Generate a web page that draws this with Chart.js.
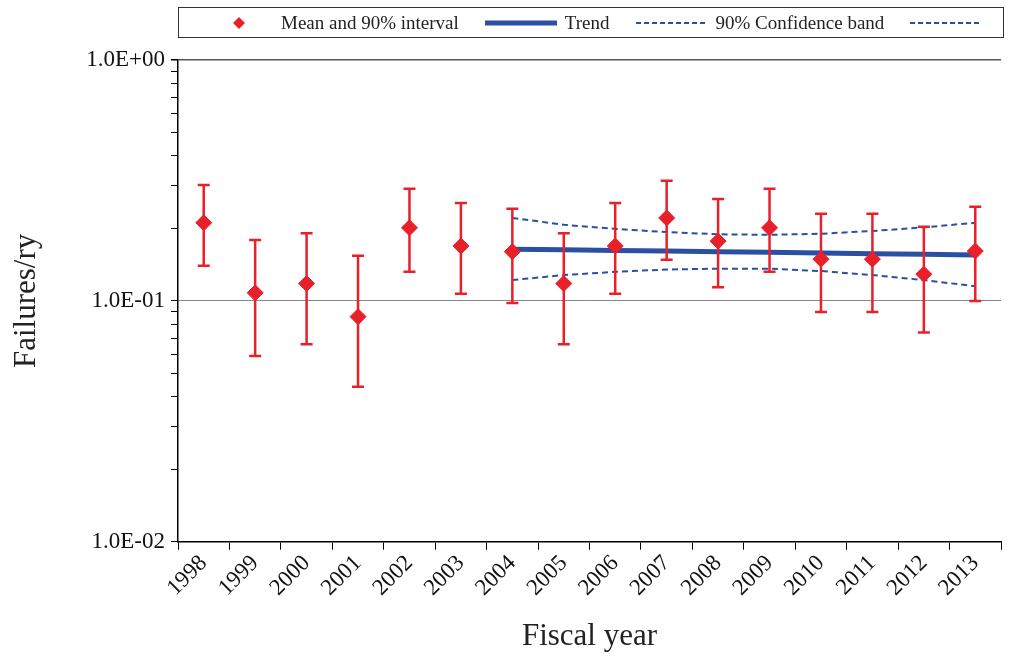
<!DOCTYPE html>
<html><head><meta charset="utf-8">
<script src="https://cdn.jsdelivr.net/npm/chart.js@4"></script>
<style>
body{margin:0;background:#fff;font-family:"Liberation Serif",serif}
#wrap{position:relative;width:1010px;height:663px}
#legend{position:absolute;left:178px;top:7px;width:826px;height:31px;border:1px solid #333;box-sizing:border-box;display:flex;align-items:center;font-size:19px;color:#222;white-space:nowrap}
#legend span{display:inline-flex;align-items:center;margin-right:26px;white-space:nowrap}
#legend svg{margin-right:8px;flex:none}
</style></head><body>
<div id="wrap"><canvas id="c" width="1010" height="663"></canvas>
<div id="legend">
<span style="margin-left:52px"><svg width="16" height="16" style="margin-right:34px"><polygon points="8,2 14,8 8,14 2,8" fill="#e8202a"/></svg>Mean and 90% interval</span>
<span><svg width="72" height="10"><line x1="0" y1="5" x2="72" y2="5" stroke="#2a4fa3" stroke-width="5"/></svg>Trend</span>
<span><svg width="72" height="10"><line x1="0" y1="5" x2="72" y2="5" stroke="#2a4fa3" stroke-width="2" stroke-dasharray="5,3"/></svg>90% Confidence band</span>
<span><svg width="72" height="10"><line x1="0" y1="5" x2="72" y2="5" stroke="#2a4fa3" stroke-width="2" stroke-dasharray="5,3"/></svg></span>
</div></div>
<script>
const years=["1998","1999","2000","2001","2002","2003","2004","2005","2006","2007","2008","2009","2010","2011","2012","2013"];
const meanVals=[0.211,0.108,0.118,0.086,0.201,0.169,0.160,0.118,0.169,0.221,0.177,0.201,0.149,0.149,0.129,0.161];
const upperVals=[0.303,0.179,0.191,0.154,0.292,0.255,0.241,0.191,0.255,0.315,0.265,0.292,0.230,0.230,0.203,0.246];
const lowerVals=[0.140,0.059,0.066,0.044,0.132,0.107,0.098,0.066,0.107,0.148,0.114,0.132,0.090,0.090,0.074,0.100];
const trendVals=[null,null,null,null,null,null,0.164,0.163,0.162,0.161,0.160,0.159,0.158,0.157,0.156,0.155];
const bandUpper=[null,null,null,null,null,null,0.221,0.207,0.199,0.193,0.189,0.188,0.190,0.195,0.202,0.211];
const bandLower=[null,null,null,null,null,null,0.122,0.128,0.132,0.135,0.136,0.136,0.133,0.128,0.122,0.115];
const yTickLabels={1:"1.0E+00",0.1:"1.0E-01",0.01:"1.0E-02"};
const red="#e8202a",blue="#2a4fa3";
const errPlugin={id:"err",afterDatasetsDraw(ch){
 const c=ch.ctx,x=ch.scales.x,y=ch.scales.y;c.save();c.strokeStyle=red;c.lineWidth=2.5;
 years.forEach((_,i)=>{const px=x.getPixelForValue(i),pu=y.getPixelForValue(upperVals[i]),pl=y.getPixelForValue(lowerVals[i]);
 c.beginPath();c.moveTo(px,pu);c.lineTo(px,pl);c.moveTo(px-6,pu);c.lineTo(px+6,pu);c.moveTo(px-6,pl);c.lineTo(px+6,pl);c.stroke();});
 c.restore();}};
const isMajor=v=>Math.abs(Math.log10(v)-Math.round(Math.log10(v)))<1e-6;
new Chart(document.getElementById("c"),{
 data:{labels:years,datasets:[
  {type:"line",data:bandUpper,borderColor:blue,borderWidth:2,borderDash:[6,4],pointRadius:0,fill:false,order:3},
  {type:"line",data:bandLower,borderColor:blue,borderWidth:2,borderDash:[6,4],pointRadius:0,fill:false,order:3},
  {type:"line",data:trendVals,borderColor:blue,borderWidth:5,pointRadius:0,fill:false,order:2},
  {type:"line",data:meanVals,showLine:false,pointStyle:"rectRot",pointRadius:8,pointBackgroundColor:red,pointBorderColor:red,order:0}
 ]},
 options:{responsive:false,animation:false,
  layout:{padding:{top:60,right:5,left:4,bottom:4}},
  plugins:{legend:{display:false},tooltip:{enabled:false}},
  scales:{
   x:{type:"category",offset:true,
    grid:{offset:true,drawOnChartArea:false,color:"#000",tickLength:8,lineWidth:1},
    border:{color:"#000",width:1.5},
    ticks:{color:"#111",font:{family:"Liberation Serif",size:23},minRotation:45,maxRotation:45,padding:0},
    title:{display:true,text:"Fiscal year",color:"#222",font:{family:"Liberation Serif",size:31},padding:{top:16}}},
   y:{type:"logarithmic",min:0.01,max:1,
    afterBuildTicks(s){const t=[];[0.01,0.1].forEach(d=>{for(let k=1;k<10;k++)t.push({value:+(d*k).toPrecision(3)});});t.push({value:1});s.ticks=t;},
    afterFit(s){s.width=174;},
    grid:{color:ctx=>ctx.tick&&isMajor(ctx.tick.value)?(ctx.tick.value===1?"#555":"#888"):"rgba(0,0,0,0)",
      tickColor:"#000",tickLength:7,lineWidth:ctx=>ctx.tick&&ctx.tick.value===1?1.5:1},
    border:{color:"#000",width:1.5},
    ticks:{autoSkip:false,color:"#111",font:{family:"Liberation Serif",size:23},padding:6,callback:v=>yTickLabels[+(+v).toPrecision(3)]||""},
    title:{display:true,text:"Failures/ry",color:"#222",font:{family:"Liberation Serif",size:31},padding:{bottom:0}}}
  }},
 plugins:[errPlugin]});
</script></body></html>
